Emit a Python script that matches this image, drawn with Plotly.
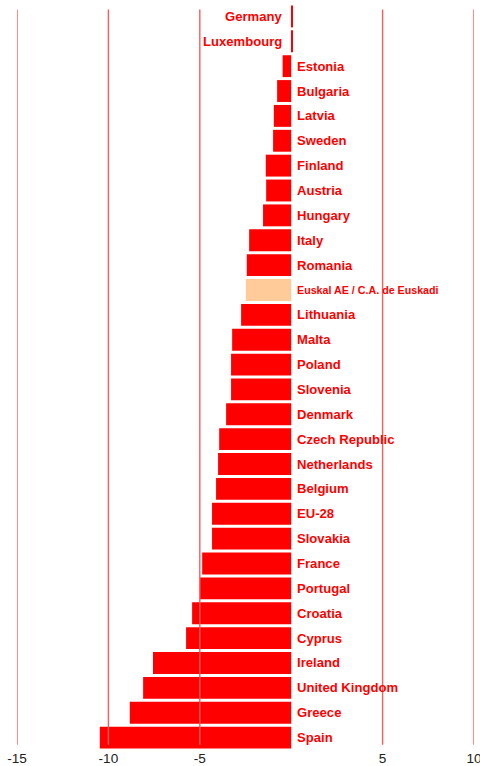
import plotly.graph_objects as go

countries = ["Germany", "Luxembourg", "Estonia", "Bulgaria", "Latvia", "Sweden", "Finland",
             "Austria", "Hungary", "Italy", "Romania", "Euskal AE / C.A. de Euskadi",
             "Lithuania", "Malta", "Poland", "Slovenia", "Denmark", "Czech Republic",
             "Netherlands", "Belgium", "EU-28", "Slovakia", "France", "Portugal", "Croatia",
             "Cyprus", "Ireland", "United Kingdom", "Greece", "Spain"]
values = [0.1, 0.05, -0.47, -0.77, -0.95, -0.99, -1.39, -1.37, -1.54, -2.30, -2.43, -2.48,
          -2.74, -3.23, -3.29, -3.29, -3.56, -3.94, -4.00, -4.11, -4.33, -4.33, -4.87, -5.00,
          -5.42, -5.75, -7.56, -8.10, -8.83, -10.47]
highlight = "Euskal AE / C.A. de Euskadi"
tick_vals = [-15, -10, -5, 5, 10]
tick_text = ["-15", "-10", "-5", "5", "10"]
x_range = [-15, 10]

bar_colors = ["#FFCC99" if c == highlight else "#FF0000" for c in countries]

label_font = "Liberation Sans, Arial, sans-serif"

fig = go.Figure()
fig.add_trace(go.Bar(
    x=values, y=countries, orientation="h",
    marker=dict(color=bar_colors, line=dict(width=0)),
    hoverinfo="x+y",
))

for c, v in zip(countries, values):
    pos = v > 0
    fig.add_annotation(
        x=0, y=c, xref="x", yref="y", text="<b>%s</b>" % c, showarrow=False,
        xanchor="right" if pos else "left", yanchor="middle",
        xshift=-7 if pos else 4, yshift=0,
        font=dict(family=label_font, size=10.7 if c == highlight else 13.1, color="#FF0000"),
    )

for tv in tick_vals:
    fig.add_shape(type="line", xref="x", yref="paper", x0=tv, x1=tv, y0=0.007, y1=0.9925,
                  line=dict(color="#FF5A5A", width=1.4), layer="above")

fig.update_layout(
    width=480, height=766,
    margin=dict(l=17, r=6, t=4, b=16),
    paper_bgcolor="white", plot_bgcolor="white",
    showlegend=False, bargap=0.12,
    xaxis=dict(range=x_range, tickvals=tick_vals, ticktext=tick_text, showgrid=False,
               zeroline=False, showline=False, ticks="", automargin=False,
               ticklabeloverflow="allow", ticklabelstandoff=-2,
               tickfont=dict(family="Liberation Sans, Arial, sans-serif", size=13.6, color="#222222"),
               fixedrange=True),
    yaxis=dict(categoryorder="array", categoryarray=countries, autorange="reversed",
               showticklabels=False, showgrid=False, zeroline=False, ticks="",
               automargin=False, fixedrange=True),
)

fig.write_html("out.html", config={"displayModeBar": False},
               post_script="document.body.style.margin='0';document.body.style.padding='0';")
